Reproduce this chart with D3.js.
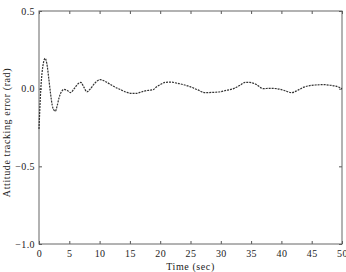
<!DOCTYPE html>
<html>
<head>
<meta charset="utf-8">
<script src="https://cdn.jsdelivr.net/npm/d3@7"></script>
<style>
  body { margin: 0; background: #fff; }
  svg text { font-family: "Liberation Serif", "DejaVu Serif", serif; fill: #222; }
</style>
</head>
<body>
<div id="chart"></div>
<script>
// time (sec) and attitude tracking error (rad)
const timeSec = [0, 0.15, 0.3, 0.5, 0.75, 1.0, 1.3, 1.6, 1.9, 2.2, 2.5, 2.7, 3.0, 3.3, 3.7, 4.1, 4.6, 5.2, 5.8, 6.4, 6.9, 7.4, 7.9, 8.5, 9.2, 10.1, 11.0, 12.3, 13.4, 14.5, 15.3, 16.1, 17.0, 17.8, 18.3, 18.9, 19.4, 20.1, 20.8, 21.8, 22.7, 23.8, 24.9, 26.2, 27.4, 28.6, 29.9, 31.0, 32.1, 33.1, 34.0, 34.8, 35.8, 37.0, 38.0, 39.2, 40.5, 41.7, 42.7, 43.6, 44.7, 45.8, 47.0, 48.0, 49.0, 50.0];
const errorRad = [-0.26, -0.12, 0.0, 0.1, 0.17, 0.195, 0.16, 0.07, -0.03, -0.11, -0.14, -0.145, -0.11, -0.06, -0.02, -0.005, -0.01, -0.025, 0.0, 0.03, 0.04, 0.01, -0.02, 0.0, 0.035, 0.058, 0.045, 0.015, -0.005, -0.024, -0.03, -0.03, -0.02, -0.012, -0.01, -0.005, 0.012, 0.028, 0.04, 0.042, 0.036, 0.026, 0.013, -0.008, -0.026, -0.024, -0.02, -0.01, 0.0, 0.02, 0.04, 0.04, 0.028, 0.0, 0.002, 0.0, -0.012, -0.026, -0.01, 0.008, 0.02, 0.024, 0.026, 0.022, 0.016, 0.0];
const xTicks = [0, 5, 10, 15, 20, 25, 30, 35, 40, 45, 50];
const yTicks = [0.5, 0.0, -0.5, -1.0];

const W = 346, H = 272;
const margin = { top: 11, right: 4, bottom: 28, left: 39 };
const width = W - margin.left - margin.right;
const height = H - margin.top - margin.bottom;

const svg = d3.select("#chart").append("svg")
  .attr("width", W)
  .attr("height", H);

const g = svg.append("g")
  .attr("transform", `translate(${margin.left},${margin.top})`);

const x = d3.scaleLinear().domain([0, 50]).range([0, width]);
const y = d3.scaleLinear().domain([-1.0, 0.5]).range([height, 0]);

// ticks pointing inward on all four sides
const tickLen = 3;
g.append("g")
  .attr("transform", `translate(0,${height})`)
  .call(d3.axisBottom(x).tickValues(xTicks).tickSize(-tickLen).tickPadding(6).tickFormat(d3.format("d")))
  .call(a => a.select(".domain").remove());
g.append("g")
  .call(d3.axisTop(x).tickValues(xTicks).tickSize(-tickLen).tickFormat(""))
  .call(a => a.select(".domain").remove());
g.append("g")
  .call(d3.axisLeft(y).tickValues(yTicks).tickSize(-tickLen).tickPadding(4).tickFormat(d3.format(".1f")))
  .call(a => a.select(".domain").remove());
g.append("g")
  .attr("transform", `translate(${width},0)`)
  .call(d3.axisRight(y).tickValues(yTicks).tickSize(-tickLen).tickFormat(""))
  .call(a => a.select(".domain").remove());

g.selectAll(".tick line").attr("stroke", "#555");
g.selectAll(".tick text").attr("font-size", 10).attr("fill", "#222")
  .attr("letter-spacing", 0.4)
  .attr("font-family", "Liberation Serif, serif");

// frame
g.append("rect")
  .attr("width", width)
  .attr("height", height)
  .attr("fill", "none")
  .attr("stroke", "#666")
  .attr("stroke-width", 1);

// curve
const pts = timeSec.map((t, i) => [t, errorRad[i]]);
const line = d3.line()
  .x(d => x(d[0]))
  .y(d => y(d[1]))
  .curve(d3.curveMonotoneX);

g.append("path")
  .datum(pts)
  .attr("fill", "none")
  .attr("stroke", "#333")
  .attr("stroke-width", 1.2)
  .attr("stroke-dasharray", "2,1")
  .attr("d", line);

// axis titles
svg.append("text")
  .attr("x", margin.left + width / 2)
  .attr("y", 270)
  .attr("text-anchor", "middle")
  .attr("font-size", 10)
  .attr("letter-spacing", 0.6)
  .text("Time (sec)");

svg.append("text")
  .attr("transform", `translate(10,${margin.top + height / 2 + 5}) rotate(-90)`)
  .attr("text-anchor", "middle")
  .attr("font-size", 10)
  .attr("letter-spacing", 0.6)
  .text("Attitude tracking error (rad)");
</script>
</body>
</html>
